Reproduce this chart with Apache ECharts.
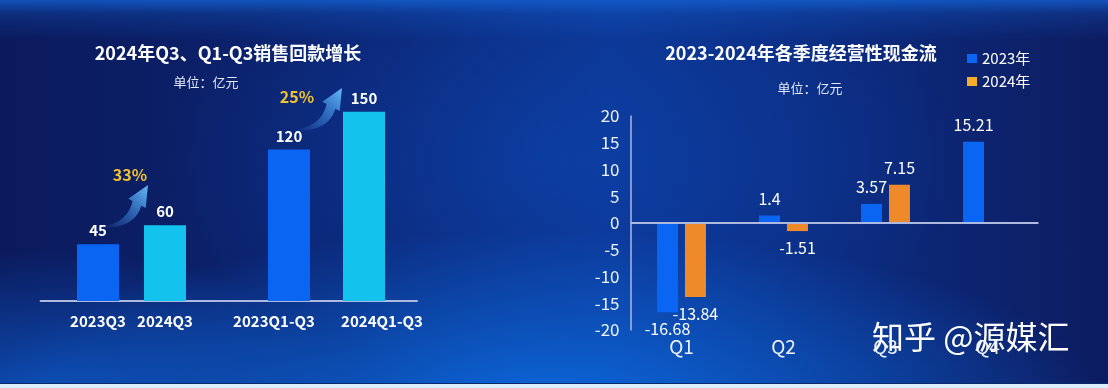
<!DOCTYPE html>
<html><head><meta charset="utf-8">
<script src="https://cdn.jsdelivr.net/npm/echarts@6/dist/echarts.min.js"></script>
<style>
html,body{margin:0;padding:0;width:1108px;height:388px;overflow:hidden;background:#0b1d62;}
#bg{position:absolute;left:0;top:0;width:1108px;height:388px;
background:
 linear-gradient(180deg, rgba(20,100,215,0.75) 0px, rgba(20,100,215,0.25) 14px, rgba(20,100,215,0) 40px),
 radial-gradient(ellipse 560px 170px at 540px 400px, rgba(12,105,222,0.95) 0%, rgba(12,105,222,0) 100%),
 radial-gradient(ellipse 320px 150px at 40px 400px, rgba(14,95,210,0.75) 0%, rgba(14,95,210,0) 100%),
 radial-gradient(ellipse 400px 220px at 560px 160px, rgba(12,70,180,0.55) 0%, rgba(12,70,180,0) 100%),
 linear-gradient(90deg, #0b1a5c 0%, #0c2674 35%, #0c3590 55%, #0c2a7c 78%, #0d1c60 100%);}
#strip{position:absolute;left:0;top:383px;width:1108px;height:5px;background:#dcefff;border-top:1px solid #0a2a6e;}
#chart{position:absolute;left:0;top:0;width:1108px;height:388px;}
</style></head><body>
<div id="bg"></div><div id="strip"></div><div id="chart"></div>
<script>
// ---- data ----
const salesCategories = ['2023Q3', '2024Q3', '2023Q1-Q3', '2024Q1-Q3'];
const salesValues = [45, 60, 120, 150];
const growthLabels = ['33%', '25%'];
const quarters = ['Q1', 'Q2', 'Q3', 'Q4'];
const cash2023 = [-16.68, 1.4, 3.57, 15.21];
const cash2024 = [-13.84, -1.51, 7.15, null];
const seriesNames = ['2023年', '2024年'];

// ---- styles ----
const FONT = '"Noto Sans CJK SC", "Noto Sans", sans-serif';
const BLUE = '#0a66f2', CYAN = '#14c2ee', ORANGE = '#ef8a2b', LEG_ORANGE = '#f6ae2a';
const AXIS = '#aeb9e0';

const chart = echarts.init(document.getElementById('chart'));

function cashData(arr) {
  return arr.map(v => v === null ? '-' : { value: v, label: { position: v < 0 ? 'bottom' : 'top' } });
}
function salesBar(idx, vals, colors) {
  return {
    type: 'bar', xAxisIndex: idx, yAxisIndex: idx, barWidth: 42,
    data: vals.map((v, i) => ({ value: v, itemStyle: { color: colors[i] } })),
    label: { show: true, position: 'top', distance: 6, color: '#fff', fontWeight: 'bold', fontSize: 15, fontFamily: FONT }
  };
}
// decorative curved arrow outline (local coordinates)
function quad(p0, c, p1, n) {
  const pts = [];
  for (let i = 0; i <= n; i++) {
    const t = i / n, u = 1 - t;
    pts.push([u * u * p0[0] + 2 * u * t * c[0] + t * t * p1[0], u * u * p0[1] + 2 * u * t * c[1] + t * t * p1[1]]);
  }
  return pts;
}
const arrowPts = [].concat(
  quad([0, 45], [26, 42], [31.6, 17.5], 12),
  [[27.3, 15], [47, 0], [44.7, 25]],
  quad([40.3, 22.5], [34, 47], [0, 47], 12)
);
function arrow(x, y) {
  return {
    type: 'polygon', x: x, y: y, scaleX: 1, scaleY: 0.92,
    shape: { points: arrowPts },
    style: { fill: { type: 'linear', x: 0, y: 1, x2: 1, y2: 0, colorStops: [
      { offset: 0, color: 'rgba(70,150,235,0)' },
      { offset: 0.5, color: 'rgba(70,150,235,0.55)' },
      { offset: 1, color: '#66baf6' }] } }
  };
}
function txt(x, y, text, size, weight, color, align) {
  return { type: 'text', x: x, y: y, style: { text: text, fontSize: size, fontWeight: weight, fill: color,
    fontFamily: FONT, align: align || 'center', verticalAlign: 'middle' } };
}
const salesLabel = { color: '#fff', fontWeight: 'bold', fontSize: 15, margin: 13, interval: 0 };

const option = {
  animation: false,
  backgroundColor: 'transparent',
  textStyle: { fontFamily: FONT },
  grid: [
    { left: 64.5, width: 134, top: 99, height: 202 },
    { left: 251.5, width: 150, top: 99, height: 202 },
    { left: 40.6, width: 376.4, top: 99, height: 202 },
    { left: 630.5, width: 408, top: 116, height: 214 }
  ],
  xAxis: [
    { gridIndex: 0, type: 'category', data: salesCategories.slice(0, 2), axisLine: { show: false }, axisTick: { show: false },
      axisLabel: salesLabel },
    { gridIndex: 1, type: 'category', data: salesCategories.slice(2), axisLine: { show: false }, axisTick: { show: false },
      axisLabel: Object.assign({}, salesLabel, {
        formatter: (v, i) => (i === 0 ? '{l|' : '{r|') + v + '}',
        rich: {
          l: { color: '#fff', fontWeight: 'bold', fontSize: 15, padding: [0, 30, 0, 0] },
          r: { color: '#fff', fontWeight: 'bold', fontSize: 15, padding: [0, 0, 0, 36] }
        }
      }) },
    { gridIndex: 2, type: 'category', data: [''], axisLine: { show: true, lineStyle: { color: AXIS, width: 2 } },
      axisTick: { show: false }, axisLabel: { show: false } },
    { gridIndex: 3, type: 'category', data: quarters, axisLine: { show: false, onZero: false }, axisTick: { show: false },
      axisLabel: { color: '#eef2fb', fontSize: 19, margin: 7 } }
  ],
  yAxis: [
    { gridIndex: 0, type: 'value', min: 0, max: 160, show: false },
    { gridIndex: 1, type: 'value', min: 0, max: 160, show: false },
    { gridIndex: 2, type: 'value', min: 0, max: 1, show: false },
    { gridIndex: 3, type: 'value', min: -20, max: 20, interval: 5,
      axisLine: { show: true, lineStyle: { color: AXIS, width: 1.5 } }, axisTick: { show: false }, splitLine: { show: false },
      axisLabel: { color: '#eef2fb', fontSize: 17, margin: 11 } }
  ],
  legend: {
    left: 962, top: 46, orient: 'vertical', icon: 'rect', itemWidth: 10, itemHeight: 9, itemGap: 8,
    textStyle: { color: '#fff', fontSize: 15 },
    data: [{ name: seriesNames[0] }, { name: seriesNames[1], itemStyle: { color: LEG_ORANGE } }]
  },
  series: [
    salesBar(0, salesValues.slice(0, 2), [BLUE, CYAN]),
    salesBar(1, salesValues.slice(2), [BLUE, CYAN]),
    { name: seriesNames[0], type: 'bar', xAxisIndex: 3, yAxisIndex: 3, barWidth: 21, barGap: '33%',
      itemStyle: { color: BLUE }, data: cashData(cash2023),
      label: { show: true, distance: 9, color: '#fff', fontSize: 16 },
      markLine: { silent: true, symbol: 'none', label: { show: false },
        lineStyle: { color: AXIS, width: 2, type: 'solid' }, data: [{ yAxis: 0 }] } },
    { name: seriesNames[1], type: 'bar', xAxisIndex: 3, yAxisIndex: 3, barWidth: 21, barGap: '33%',
      itemStyle: { color: ORANGE }, data: cashData(cash2024),
      label: { show: true, distance: 9, color: '#fff', fontSize: 16 } }
  ],
  graphic: [
    txt(228, 53, '2024年Q3、Q1-Q3销售回款增长', 18, 'bold', '#fff'),
    txt(206, 82, '单位：亿元', 13, 'normal', '#e3e8f6'),
    txt(801, 53, '2023-2024年各季度经营性现金流', 18, 'bold', '#fff'),
    txt(810, 88, '单位：亿元', 13, 'normal', '#e3e8f6'),
    arrow(101, 185),
    arrow(295, 88),
    txt(130, 175, growthLabels[0], 16, 'bold', '#f1c232'),
    txt(297, 97, growthLabels[1], 16, 'bold', '#f1c232'),
    txt(872, 337, '知乎 @源媒汇', 32, 'normal', '#ffffff', 'left')
  ]
};
chart.setOption(option);
</script>
</body></html>
